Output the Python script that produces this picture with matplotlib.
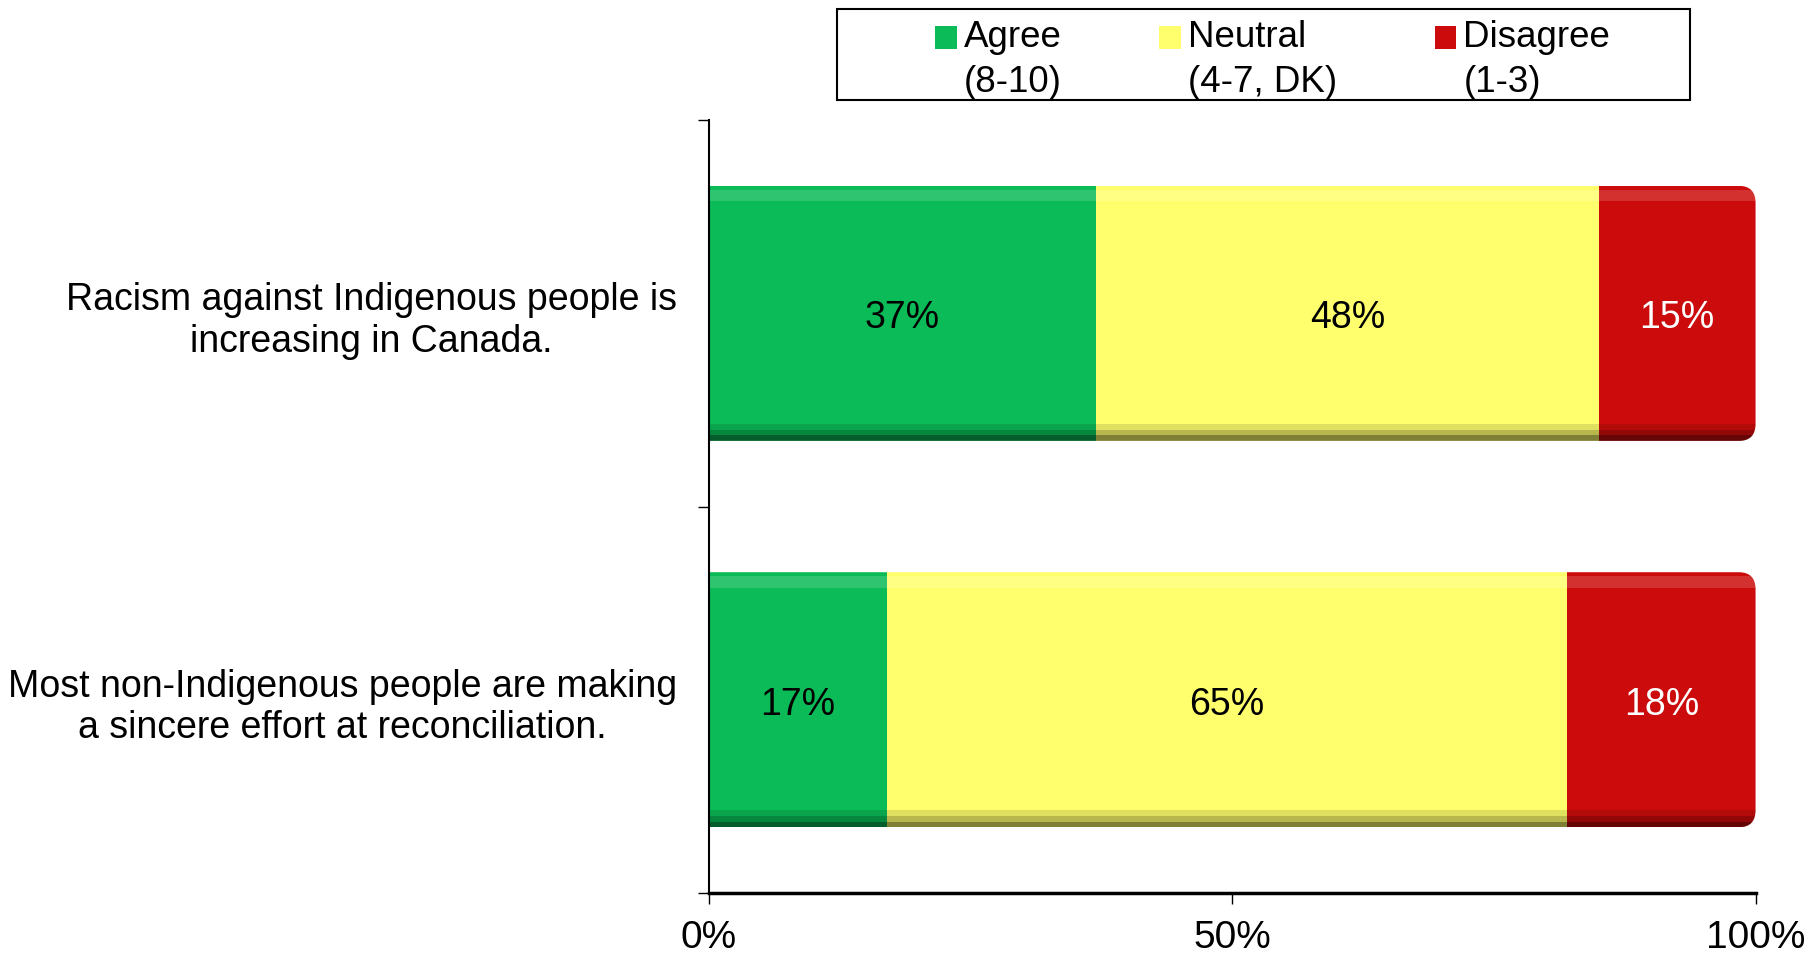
import matplotlib.pyplot as plt
from matplotlib.patches import Patch, Rectangle, FancyBboxPatch
from matplotlib.legend_handler import HandlerPatch

plt.rcParams['font.family'] = ['Liberation Sans', 'DejaVu Sans']

statements = ['Racism against Indigenous people is\nincreasing in Canada.',
              'Most non-Indigenous people are making\na sincere effort at reconciliation.']
agree = [37, 17]
neutral = [48, 65]
disagree = [15, 18]
series_names = ['Agree\n(8-10)', 'Neutral\n(4-7, DK)', 'Disagree\n(1-3)']
colors = ['#0BBB57', '#FFFF6E', '#CC0C0C']
text_colors = ['black', 'black', 'white']
bar_h = 0.66

fig = plt.figure(figsize=(18.08, 9.54), dpi=100)
ax = fig.add_axes([0.392, 0.063, 0.579, 0.81])

pos = list(range(len(statements)))

# rounded outline of each full bar, used to clip the segments (round right end)
clips = []
for p in pos:
    c = FancyBboxPatch((-5, p - bar_h / 2), 105, bar_h,
                       boxstyle='round,pad=0,rounding_size=1.6',
                       mutation_aspect=0.028, transform=ax.transData,
                       facecolor='none', edgecolor='none')
    clips.append(c)

# thin strips for the bevelled look: (offset from bar top, height, colour, alpha)
strips = [(0.025, 0.03, 'white', 0.15),
          (bar_h - 0.022, 0.044, 'black', 0.12),
          (bar_h - 0.014, 0.028, 'black', 0.18),
          (bar_h - 0.007, 0.014, 'black', 0.3)]

left = [0] * len(statements)
for vals, col, tcol in zip([agree, neutral, disagree], colors, text_colors):
    groups = [ax.barh(pos, vals, left=left, height=bar_h, color=col, edgecolor='none')]
    for off, h, sc, a in strips:
        groups.append(ax.barh([p - bar_h / 2 + off for p in pos], vals, left=left,
                              height=h, color=sc, alpha=a, edgecolor='none'))
    for group in groups:
        for i, r in enumerate(group):
            r.set_clip_path(clips[i])
    for p, v, l in zip(pos, vals, left):
        ax.text(l + v / 2, p, f'{v}%', ha='center', va='center_baseline',
                fontsize=27, color=tcol)
    left = [a + b for a, b in zip(left, vals)]

ax.set_xlim(0, 100)
ax.set_ylim(1.5, -0.5)
ax.set_xticks([0, 50, 100])
ax.set_xticklabels(['0%', '50%', '100%'], fontsize=28)
ax.tick_params(axis='x', length=8, width=1, pad=11, direction='out')

ax.set_yticks([-0.5, 0.5, 1.5])
ax.set_yticklabels([])
ax.set_yticks(pos, minor=True)
ax.set_yticklabels(statements, minor=True, fontsize=27, multialignment='center')
ax.tick_params(axis='y', which='minor', length=0, pad=23)
ax.tick_params(axis='y', which='major', length=8, width=1)

for s in ['top', 'right']:
    ax.spines[s].set_visible(False)
ax.spines['left'].set_linewidth(1.5)
ax.spines['bottom'].set_linewidth(2.5)


def top_square(legend, orig_handle, xdescent, ydescent, width, height, fontsize):
    # put the square next to the first line of the two-line label
    return Rectangle((-xdescent, -ydescent + 0.6 * fontsize), width, height)


handles = [Patch(facecolor=c, edgecolor='none') for c in colors]
leg = fig.legend(handles, series_names, ncol=3, loc='center',
                 bbox_to_anchor=(0.704, 0.937), frameon=False,
                 fontsize=26.5, handlelength=0.58, handleheight=0.58,
                 handletextpad=0.2, columnspacing=2.65, labelspacing=0,
                 handler_map={Patch: HandlerPatch(patch_func=top_square)})
for t in leg.get_texts():
    t.set_linespacing(1.35)

# legend frame
fig.patches.append(Rectangle((0.463, 0.894), 0.472, 0.096, transform=fig.transFigure,
                             facecolor='none', edgecolor='black', linewidth=1.5))

fig.savefig('out.png', dpi=100)
